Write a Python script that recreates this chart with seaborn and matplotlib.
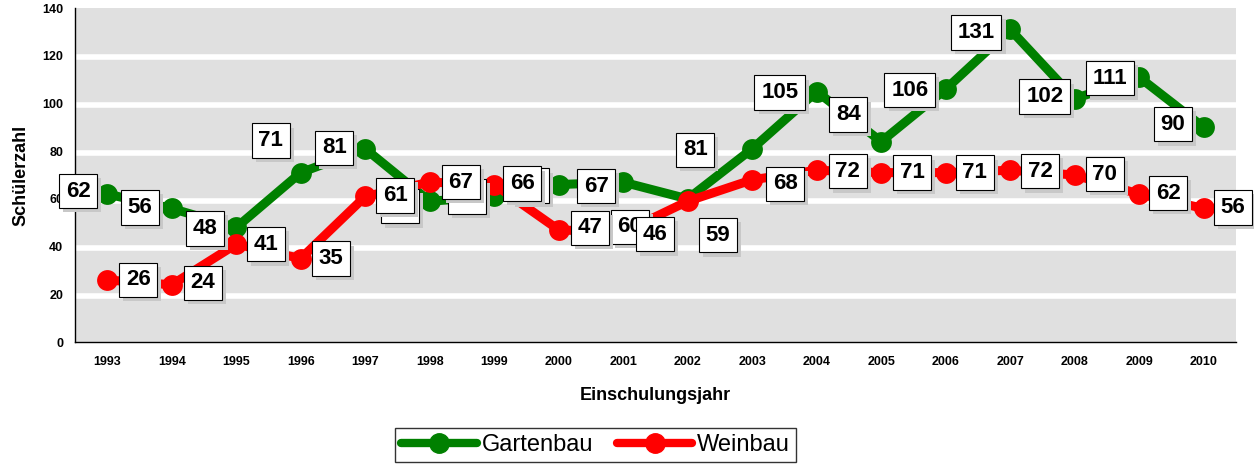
import matplotlib
matplotlib.use("Agg")
import matplotlib.pyplot as plt
import matplotlib.patheffects as pe
import pandas as pd
import seaborn as sns

jahre = list(range(1993, 2011))
gartenbau = [62, 56, 48, 71, 81, 59, 61, 66, 67, 60, 81, 105, 84, 106, 131, 102, 111, 90]
weinbau = [26, 24, 41, 35, 61, 67, 66, 47, 46, 59, 68, 72, 71, 71, 72, 70, 62, 56]

# label offsets in pixels (dx, dy)
off_garten = [(-29, 3), (-32, 1), (-31, -1), (-30, 32), (-31, 1), (-30, -5), (-27, 0), (-29, -1),
              (-27, -4), (-58, -28), (-57, -1), (-37, -1), (-33, 27), (-36, -1), (-34, -3),
              (-30, 2), (-29, -1), (-31, 3)]
off_wein = [(31, 0), (31, 2), (30, 0), (30, 0), (30, 1), (31, 0), (28, 1), (31, 2), (32, -2),
            (30, -34), (33, -4), (31, -1), (31, 0), (29, 0), (30, -1), (30, 1), (29, 1), (29, 1)]

df = pd.DataFrame({
    "Jahr": [str(j) for j in jahre] * 2,
    "Schüler": gartenbau + weinbau,
    "Fach": ["Gartenbau"] * len(jahre) + ["Weinbau"] * len(jahre),
})

sns.set_style("white")
plt.rcParams["font.family"] = ["Liberation Sans", "DejaVu Sans"]
for k in ["text.color", "axes.labelcolor", "xtick.color", "ytick.color"]:
    plt.rcParams[k] = "black"

fig = plt.figure(figsize=(12.54, 4.68), dpi=100)
ax = fig.add_axes([0.0598, 0.2692, 0.9258, 0.7137])
ax.set_facecolor("#e0e0e0")

farben = {"Gartenbau": "#008000", "Weinbau": "#ff0000"}
sns.lineplot(data=df, x="Jahr", y="Schüler", hue="Fach", palette=farben, marker="o",
             markersize=15, markeredgewidth=0, linewidth=6.5, ax=ax, zorder=3, legend=False)

ax.set_ylim(0, 140)
ax.set_xlim(-0.5, len(jahre) - 0.5)
ax.set_yticks(range(0, 141, 20))
for y in range(20, 140, 20):
    ax.axhline(y - 0.7, color="white", linewidth=4, zorder=1)

ax.set_xticks(range(len(jahre)))
ax.set_xticklabels([str(j) for j in jahre], fontsize=9, fontweight="bold")
ax.set_xticks([i - 0.5 for i in range(len(jahre) + 1)], minor=True)
ax.tick_params(axis="x", which="major", length=0, pad=10)
ax.tick_params(axis="x", which="minor", length=5, direction="out", color="black")
ax.tick_params(axis="y", length=5, direction="out", labelsize=9, color="black")
for t in ax.get_yticklabels():
    t.set_fontweight("bold")

for s in ["top", "right"]:
    ax.spines[s].set_visible(False)
for s in ["left", "bottom"]:
    ax.spines[s].set_color("black")
    ax.spines[s].set_linewidth(1)

ax.set_xlabel("Einschulungsjahr", fontsize=13, fontweight="bold", labelpad=14)
ax.set_ylabel("Schülerzahl", fontsize=13, fontweight="bold", labelpad=9)


def beschriften(werte, offsets, z):
    for i, (v, (dx, dy)) in enumerate(zip(werte, offsets)):
        t = ax.annotate(str(v), (i, v), xytext=(dx, dy), textcoords="offset pixels",
                        ha="center", va="center", fontsize=16, fontweight="bold", zorder=z,
                        color="black",
                        bbox=dict(boxstyle="square,pad=0.3", fc="white", ec="black", lw=0.8))
        t.get_bbox_patch().set_path_effects(
            [pe.SimplePatchShadow(offset=(3, -3), shadow_rgbFace="#c8c8c8", alpha=1), pe.Normal()])


beschriften(gartenbau, off_garten, 5)
beschriften(weinbau, off_wein, 6)

handles = [plt.Line2D([], [], color=farben[k], marker="o", markersize=14, linewidth=6)
           for k in farben]
fig.legend(handles, list(farben), loc="center", bbox_to_anchor=(0.475, 0.049), ncol=2,
           fontsize=17, frameon=True, fancybox=False, edgecolor="black", handlelength=3.2,
           handletextpad=0.2, columnspacing=1.0, borderpad=0.25)

plt.savefig("out.png", dpi=100)
